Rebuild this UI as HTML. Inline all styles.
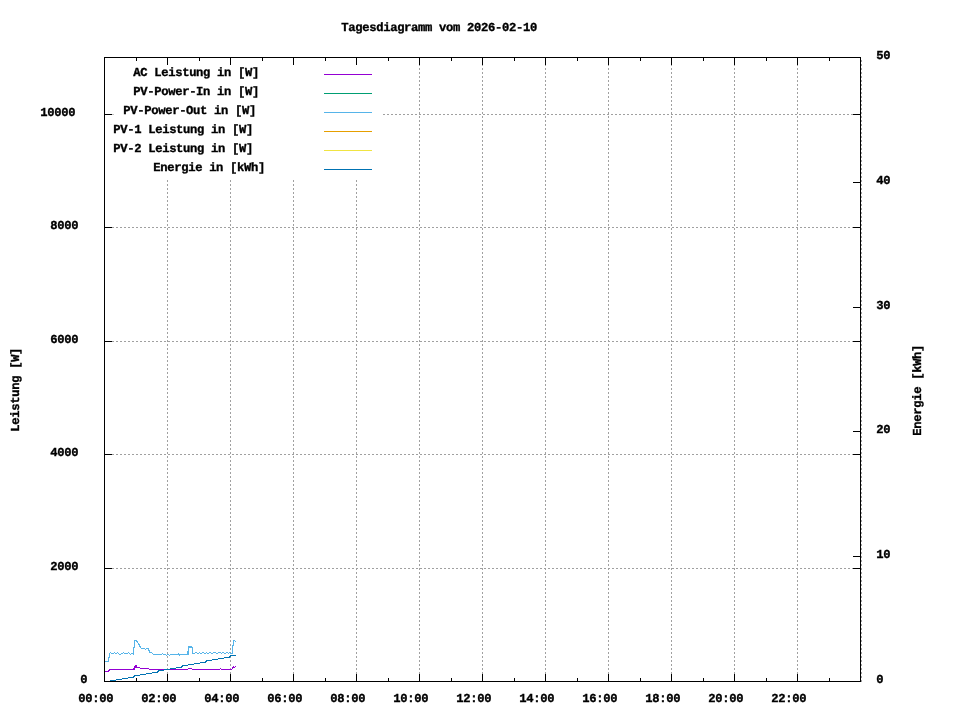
<!DOCTYPE html>
<html lang="de"><head><meta charset="utf-8"><title>Tagesdiagramm vom 2026-02-10</title>
<style>html,body{margin:0;padding:0;background:#fff}body{width:960px;height:720px;overflow:hidden}svg{display:block}text{font-family:"Liberation Mono","DejaVu Sans Mono",monospace;font-weight:bold;font-size:12.20px;letter-spacing:-0.321px;fill:#000;stroke:#000;stroke-width:0.35px;white-space:pre}.g{stroke:#a0a0a0;stroke-width:1;stroke-dasharray:2 2;fill:none}.k{stroke:#000;stroke-width:1;fill:none}.d{fill:none;stroke-width:1}</style></head><body>
<svg width="960" height="720" viewBox="0 0 960 720" shape-rendering="crispEdges" text-rendering="geometricPrecision">
<rect width="960" height="720" fill="#fff"/>
<line class="g" x1="167.5" y1="58" x2="167.5" y2="681" stroke-dashoffset="2"/>
<line class="g" x1="230.5" y1="58" x2="230.5" y2="681" stroke-dashoffset="2"/>
<line class="g" x1="293.5" y1="58" x2="293.5" y2="681" stroke-dashoffset="2"/>
<line class="g" x1="356.5" y1="58" x2="356.5" y2="681" stroke-dashoffset="2"/>
<line class="g" x1="419.5" y1="58" x2="419.5" y2="681" stroke-dashoffset="2"/>
<line class="g" x1="482.5" y1="58" x2="482.5" y2="681" stroke-dashoffset="2"/>
<line class="g" x1="545.5" y1="58" x2="545.5" y2="681" stroke-dashoffset="2"/>
<line class="g" x1="608.5" y1="58" x2="608.5" y2="681" stroke-dashoffset="2"/>
<line class="g" x1="671.5" y1="58" x2="671.5" y2="681" stroke-dashoffset="2"/>
<line class="g" x1="734.5" y1="58" x2="734.5" y2="681" stroke-dashoffset="2"/>
<line class="g" x1="797.5" y1="58" x2="797.5" y2="681" stroke-dashoffset="2"/>
<line class="g" x1="861.5" y1="58" x2="861.5" y2="682" stroke-dashoffset="2"/>
<line class="g" x1="105" y1="568.5" x2="860" y2="568.5" stroke-dashoffset="1"/>
<line class="g" x1="105" y1="454.5" x2="860" y2="454.5" stroke-dashoffset="1"/>
<line class="g" x1="105" y1="341.5" x2="860" y2="341.5" stroke-dashoffset="1"/>
<line class="g" x1="105" y1="227.5" x2="860" y2="227.5" stroke-dashoffset="1"/>
<line class="g" x1="105" y1="114.5" x2="860" y2="114.5" stroke-dashoffset="2"/>
<path fill="#9400d3" d="M105 671h3v1h-3zM108 670h1v2h-1zM109 669h1v2h-1zM110 669h23v1h-23zM133 668h1v2h-1zM134 666h1v4h-1zM135 665h2v3h-2zM137 667h3v1h-3zM140 668h9v1h-9zM149 669h39v1h-39zM188 668h4v1h-4zM192 669h28v1h-28zM220 668h1v1h-1zM221 669h11v1h-11zM232 667h1v2h-1zM233 666h1v2h-1zM234 667h1v1h-1zM235 666h1v1h-1z"/>
<path fill="#56b4e9" d="M105 661h3v1h-3zM108 657h1v5h-1zM109 653h1v5h-1zM110 652h1v1h-1zM111 653h3v1h-3zM114 652h1v1h-1zM115 653h2v1h-2zM117 652h1v1h-1zM118 653h1v1h-1zM119 654h2v1h-2zM121 653h2v1h-2zM123 652h1v1h-1zM124 653h4v1h-4zM128 652h1v1h-1zM129 653h1v1h-1zM130 654h1v1h-1zM131 653h2v1h-2zM133 647h1v8h-1zM134 640h1v8h-1zM135 640h1v1h-1zM136 640h1v2h-1zM137 641h1v2h-1zM138 643h1v2h-1zM139 644h1v3h-1zM140 646h1v2h-1zM141 648h4v1h-4zM145 649h1v1h-1zM146 648h2v1h-2zM148 648h1v3h-1zM149 650h1v3h-1zM150 652h2v1h-2zM152 653h1v1h-1zM153 654h9v1h-9zM162 653h1v1h-1zM163 654h3v1h-3zM166 655h1v1h-1zM167 654h2v1h-2zM169 655h1v1h-1zM170 654h8v1h-8zM178 653h1v2h-1zM179 654h1v2h-1zM180 654h7v1h-7zM187 651h1v4h-1zM188 646h1v9h-1zM189 646h3v2h-3zM192 647h1v7h-1zM193 653h2v1h-2zM195 652h2v1h-2zM197 653h2v1h-2zM199 652h1v1h-1zM200 653h2v1h-2zM202 652h2v1h-2zM204 653h2v1h-2zM206 652h1v1h-1zM207 653h2v1h-2zM209 652h2v1h-2zM211 653h2v1h-2zM213 652h3v1h-3zM216 653h2v1h-2zM218 652h3v1h-3zM221 653h1v1h-1zM222 652h2v1h-2zM224 653h2v1h-2zM226 652h2v1h-2zM228 653h1v1h-1zM229 652h1v1h-1zM230 653h2v1h-2zM232 645h1v9h-1zM233 640h1v6h-1zM234 640h1v1h-1zM235 641h1v1h-1z"/>
<path fill="#0072b2" d="M110 680h6v1h-6zM116 679h6v1h-6zM122 678h6v1h-6zM128 677h5v1h-5zM133 676h1v2h-1zM134 675h1v2h-1zM135 675h5v1h-5zM140 674h6v1h-6zM146 673h6v1h-6zM152 672h5v1h-5zM157 671h1v2h-1zM158 670h1v2h-1zM159 670h5v1h-5zM164 669h6v1h-6zM170 668h6v1h-6zM176 667h5v1h-5zM181 666h1v2h-1zM182 665h1v2h-1zM183 665h5v1h-5zM188 664h6v1h-6zM194 663h6v1h-6zM200 662h5v1h-5zM205 661h1v2h-1zM206 660h1v2h-1zM207 660h5v1h-5zM212 659h6v1h-6zM218 658h6v1h-6zM224 657h5v1h-5zM229 656h1v2h-1zM230 655h1v2h-1zM231 655h5v1h-5z"/>
<rect x="105" y="58" width="278" height="122" fill="#fff"/>
<rect class="k" x="104.5" y="57.5" width="756" height="624"/>
<line class="k" x1="104.5" y1="674" x2="104.5" y2="682"/>
<line class="k" x1="104.5" y1="57" x2="104.5" y2="65"/>
<line class="k" x1="136.5" y1="678" x2="136.5" y2="682"/>
<line class="k" x1="136.5" y1="57" x2="136.5" y2="61"/>
<line class="k" x1="167.5" y1="674" x2="167.5" y2="682"/>
<line class="k" x1="167.5" y1="57" x2="167.5" y2="65"/>
<line class="k" x1="199.5" y1="678" x2="199.5" y2="682"/>
<line class="k" x1="199.5" y1="57" x2="199.5" y2="61"/>
<line class="k" x1="230.5" y1="674" x2="230.5" y2="682"/>
<line class="k" x1="230.5" y1="57" x2="230.5" y2="65"/>
<line class="k" x1="262.5" y1="678" x2="262.5" y2="682"/>
<line class="k" x1="262.5" y1="57" x2="262.5" y2="61"/>
<line class="k" x1="293.5" y1="674" x2="293.5" y2="682"/>
<line class="k" x1="293.5" y1="57" x2="293.5" y2="65"/>
<line class="k" x1="325.5" y1="678" x2="325.5" y2="682"/>
<line class="k" x1="325.5" y1="57" x2="325.5" y2="61"/>
<line class="k" x1="356.5" y1="674" x2="356.5" y2="682"/>
<line class="k" x1="356.5" y1="57" x2="356.5" y2="65"/>
<line class="k" x1="388.5" y1="678" x2="388.5" y2="682"/>
<line class="k" x1="388.5" y1="57" x2="388.5" y2="61"/>
<line class="k" x1="419.5" y1="674" x2="419.5" y2="682"/>
<line class="k" x1="419.5" y1="57" x2="419.5" y2="65"/>
<line class="k" x1="451.5" y1="678" x2="451.5" y2="682"/>
<line class="k" x1="451.5" y1="57" x2="451.5" y2="61"/>
<line class="k" x1="482.5" y1="674" x2="482.5" y2="682"/>
<line class="k" x1="482.5" y1="57" x2="482.5" y2="65"/>
<line class="k" x1="514.5" y1="678" x2="514.5" y2="682"/>
<line class="k" x1="514.5" y1="57" x2="514.5" y2="61"/>
<line class="k" x1="545.5" y1="674" x2="545.5" y2="682"/>
<line class="k" x1="545.5" y1="57" x2="545.5" y2="65"/>
<line class="k" x1="577.5" y1="678" x2="577.5" y2="682"/>
<line class="k" x1="577.5" y1="57" x2="577.5" y2="61"/>
<line class="k" x1="608.5" y1="674" x2="608.5" y2="682"/>
<line class="k" x1="608.5" y1="57" x2="608.5" y2="65"/>
<line class="k" x1="640.5" y1="678" x2="640.5" y2="682"/>
<line class="k" x1="640.5" y1="57" x2="640.5" y2="61"/>
<line class="k" x1="671.5" y1="674" x2="671.5" y2="682"/>
<line class="k" x1="671.5" y1="57" x2="671.5" y2="65"/>
<line class="k" x1="703.5" y1="678" x2="703.5" y2="682"/>
<line class="k" x1="703.5" y1="57" x2="703.5" y2="61"/>
<line class="k" x1="734.5" y1="674" x2="734.5" y2="682"/>
<line class="k" x1="734.5" y1="57" x2="734.5" y2="65"/>
<line class="k" x1="766.5" y1="678" x2="766.5" y2="682"/>
<line class="k" x1="766.5" y1="57" x2="766.5" y2="61"/>
<line class="k" x1="797.5" y1="674" x2="797.5" y2="682"/>
<line class="k" x1="797.5" y1="57" x2="797.5" y2="65"/>
<line class="k" x1="829.5" y1="678" x2="829.5" y2="682"/>
<line class="k" x1="829.5" y1="57" x2="829.5" y2="61"/>
<line class="k" x1="104" y1="681.5" x2="112" y2="681.5"/>
<line class="k" x1="853" y1="681.5" x2="861" y2="681.5"/>
<line class="k" x1="104" y1="568.5" x2="112" y2="568.5"/>
<line class="k" x1="853" y1="568.5" x2="861" y2="568.5"/>
<line class="k" x1="104" y1="454.5" x2="112" y2="454.5"/>
<line class="k" x1="853" y1="454.5" x2="861" y2="454.5"/>
<line class="k" x1="104" y1="341.5" x2="112" y2="341.5"/>
<line class="k" x1="853" y1="341.5" x2="861" y2="341.5"/>
<line class="k" x1="104" y1="227.5" x2="112" y2="227.5"/>
<line class="k" x1="853" y1="227.5" x2="861" y2="227.5"/>
<line class="k" x1="104" y1="114.5" x2="112" y2="114.5"/>
<line class="k" x1="853" y1="114.5" x2="861" y2="114.5"/>
<line class="k" x1="853" y1="681.5" x2="861" y2="681.5"/>
<line class="k" x1="853" y1="556.5" x2="861" y2="556.5"/>
<line class="k" x1="853" y1="431.5" x2="861" y2="431.5"/>
<line class="k" x1="853" y1="307.5" x2="861" y2="307.5"/>
<line class="k" x1="853" y1="182.5" x2="861" y2="182.5"/>
<line class="k" x1="853" y1="57.5" x2="861" y2="57.5"/>
<rect x="112" y="114" width="2" height="1" fill="#c4c4c4"/>
<text x="341.2" y="30.65">Tagesdiagramm vom 2026-02-10</text>
<text x="80.2" y="682.65">0</text>
<text x="50.2" y="569.65">2000</text>
<text x="50.2" y="455.65">4000</text>
<text x="50.2" y="342.65">6000</text>
<text x="50.2" y="228.65">8000</text>
<text x="40.2" y="115.65">10000</text>
<text x="876.2" y="682.65">0</text>
<text x="876.2" y="557.65">10</text>
<text x="876.2" y="432.65">20</text>
<text x="876.2" y="308.65">30</text>
<text x="876.2" y="183.65">40</text>
<text x="876.2" y="58.65">50</text>
<text x="78.2" y="702.15">00:00</text>
<text x="141.2" y="702.15">02:00</text>
<text x="204.2" y="702.15">04:00</text>
<text x="267.2" y="702.15">06:00</text>
<text x="330.2" y="702.15">08:00</text>
<text x="393.2" y="702.15">10:00</text>
<text x="456.2" y="702.15">12:00</text>
<text x="519.2" y="702.15">14:00</text>
<text x="582.2" y="702.15">16:00</text>
<text x="645.2" y="702.15">18:00</text>
<text x="708.2" y="702.15">20:00</text>
<text x="771.2" y="702.15">22:00</text>
<text x="133.2" y="75.65">AC Leistung in [W]</text>
<line class="d" stroke="#9400d3" x1="324" y1="74.5" x2="372" y2="74.5"/>
<text x="133.2" y="94.65">PV-Power-In in [W]</text>
<line class="d" stroke="#009e73" x1="324" y1="93.5" x2="372" y2="93.5"/>
<text x="123.2" y="113.65">PV-Power-Out in [W]</text>
<line class="d" stroke="#56b4e9" x1="324" y1="112.5" x2="372" y2="112.5"/>
<text x="113.2" y="132.65">PV-1 Leistung in [W]</text>
<line class="d" stroke="#e69f00" x1="324" y1="131.5" x2="372" y2="131.5"/>
<text x="113.2" y="151.65">PV-2 Leistung in [W]</text>
<line class="d" stroke="#f0e442" x1="324" y1="150.5" x2="372" y2="150.5"/>
<text x="153.2" y="170.65">Energie in [kWh]</text>
<line class="d" stroke="#0072b2" x1="324" y1="169.5" x2="372" y2="169.5"/>
<text transform="translate(19.15,431.8) rotate(-90)" x="0" y="0">Leistung [W]</text>
<text transform="translate(921.15,435.8) rotate(-90)" x="0" y="0">Energie [kWh]</text>
</svg></body></html>
